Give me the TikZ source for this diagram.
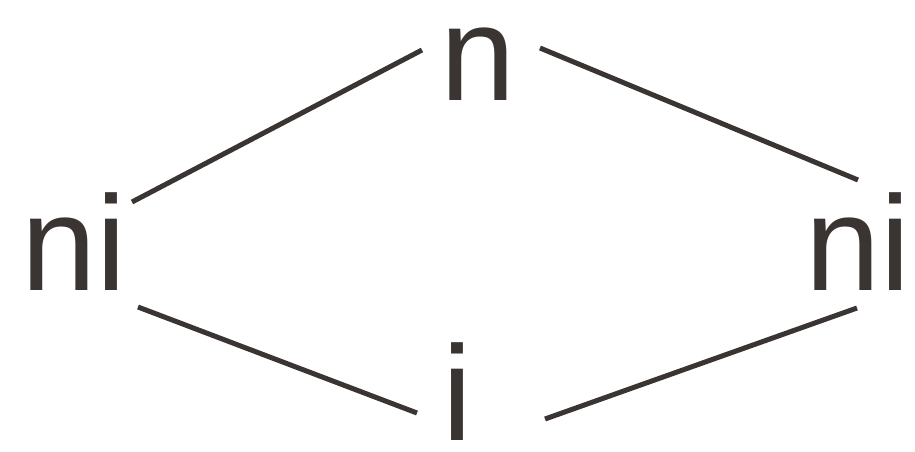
\documentclass[tikz,border=0pt]{standalone}
\usepackage{fontspec}
\setmainfont{Liberation Sans}
\definecolor{inkc}{RGB}{58,52,50}
\begin{document}
\begin{tikzpicture}[x=1pt,y=-1pt,
  lbl/.style={inner sep=0pt,anchor=base,text=inkc,font=\fontsize{135}{135}\selectfont},
  edge/.style={line width=5pt,draw=inkc}]
\useasboundingbox (0,0) rectangle (915,452);
\node[lbl] (nT) at (478,100) {n};
\node[lbl] (nL) at (74,290) {ni};
\node[lbl] (nR) at (858,290) {ni};
\node[lbl] (iB) at (457,440) {i};
\draw[edge] ([shift={(58,-88)}]nL.base) -- ([shift={(-56,-50)}]nT.base);
\draw[edge] ([shift={(62,-52)}]nT.base) -- ([shift={(0,-110)}]nR.base);
\draw[edge] ([shift={(64,17)}]nL.base) -- ([shift={(-40,-27)}]iB.base);
\draw[edge] ([shift={(88,-21)}]iB.base) -- ([shift={(-1,18)}]nR.base);
\end{tikzpicture}
\end{document}
